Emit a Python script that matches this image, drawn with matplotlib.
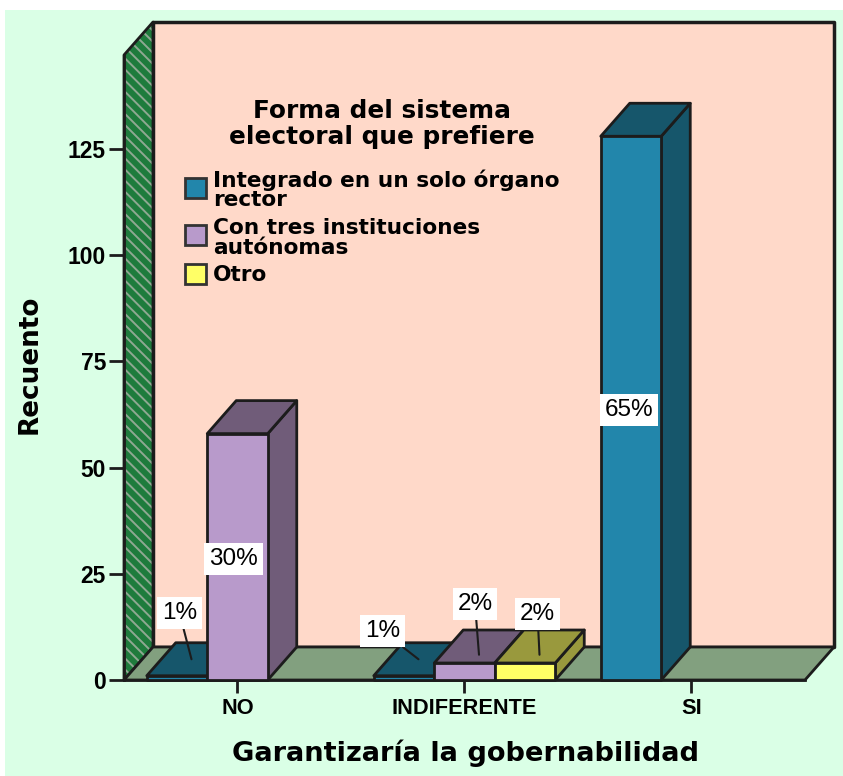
import matplotlib
matplotlib.use("Agg")
import matplotlib.pyplot as plt
from matplotlib.patches import Polygon, Rectangle

categories = ["NO", "INDIFERENTE", "SI"]
series_names = ["Integrado en un solo órgano\nrector", "Con tres instituciones\nautónomas", "Otro"]
integrado = [1, 1, 128]
con_tres = [58, 4, 0]
otro = [0, 4, 0]
integrado_pct = ["1%", "1%", "65%"]
con_tres_pct = ["30%", "2%", ""]
otro_pct = ["", "2%", ""]
yticks = [0, 25, 50, 75, 100, 125]

front_colors = ["#2286AB", "#B89ACB", "#FFFF66"]
dark_colors = ["#16566B", "#705C79", "#99993D"]

W, H = 843, 776
plt.rcParams["hatch.linewidth"] = 1.4
fig = plt.figure(figsize=(W / 100, H / 100), dpi=100, facecolor="white")
fig.patches.append(Rectangle((5 / W, 0), 838 / W, 766 / H, transform=fig.transFigure,
                             facecolor="#DAFFE6", edgecolor="none", zorder=-5))

ax = fig.add_axes([124 / W, 1 - 680 / H, 681 / W, 625 / H])
ax.patch.set_alpha(0)
ax.set_xlim(-0.5, 2.5)
ax.set_ylim(0, 625 / 4.248)

# depth of the fake 3d box, in data units
dx = 29 / 227
dy = 33 / 4.248
ymax = ax.get_ylim()[1]
bar_w = 60.5 / 227


def poly(points, color, z, lw=2.0, **kw):
    ax.add_patch(Polygon(points, closed=True, facecolor=color, edgecolor="#1c1c1c", linewidth=lw,
                         joinstyle="round", clip_on=False, zorder=z, **kw))


# back wall, left wall, floor
poly([(-0.5 + dx, dy), (2.5 + dx, dy), (2.5 + dx, ymax + dy), (-0.5 + dx, ymax + dy)], "#FFD9C9", 1, lw=2.5)
ax.add_patch(Polygon([(-0.5, 0), (-0.5 + dx, dy), (-0.5 + dx, ymax + dy), (-0.5, ymax)], closed=True,
                     facecolor="#1E7B3C", edgecolor="#8FA892", hatch="\\\\\\", linewidth=0,
                     clip_on=False, zorder=2))
poly([(-0.5, 0), (-0.5 + dx, dy), (-0.5 + dx, ymax + dy), (-0.5, ymax)], "none", 3)
poly([(-0.5, 0), (-0.5 + dx, dy), (2.5 + dx, dy), (2.5, 0)], "#82A07F", 3)


def bar3d(x, h, k, z):
    x0, x1 = x - bar_w / 2, x + bar_w / 2
    poly([(x1, 0), (x1 + dx, dy), (x1 + dx, h + dy), (x1, h)], dark_colors[k], z)
    poly([(x0, h), (x1, h), (x1 + dx, h + dy), (x0 + dx, h + dy)], dark_colors[k], z)
    poly([(x0, 0), (x1, 0), (x1, h), (x0, h)], front_colors[k], z + 0.1)


series = [integrado, con_tres, otro]
# SI only has the first slot filled, the cluster stays centred on the tick
for i in range(len(categories)):
    for k, vals in enumerate(series):
        if vals[i] > 0:
            bar3d(i + (k - 1) * bar_w, vals[i], k, 5 + i + k * 0.2)

label_font = dict(family="Liberation Sans", fontsize=17.5, color="black", ha="center", va="center", zorder=20,
                  bbox=dict(facecolor="white", edgecolor="none", pad=3.5))
# offsets in pixels for the labels of the short bars
short_offsets = {(0, 0): (-12, 46), (1, 0): (-36, 28), (1, 1): (-4, 51), (1, 2): (-2, 41)}
pcts = [integrado_pct, con_tres_pct, otro_pct]
for i in range(len(categories)):
    for k, vals in enumerate(series):
        if not pcts[k][i]:
            continue
        x = i + (k - 1) * bar_w
        if vals[i] > 20:
            ax.annotate(pcts[k][i], (x, vals[i] / 2), (-4 if k else -2, -2), textcoords="offset pixels",
                        annotation_clip=False, **label_font)
        else:
            off = short_offsets[(i, k)]
            tip = (x + dx / 2, vals[i] + dy * 0.25 if k else vals[i] + dy / 2)
            ax.annotate(pcts[k][i], tip, off, textcoords="offset pixels", annotation_clip=False,
                        arrowprops=dict(arrowstyle="-", color="#1c1c1c", lw=1.5, shrinkA=0, shrinkB=0),
                        **label_font)

for s in ["top", "right"]:
    ax.spines[s].set_visible(False)
for s in ["left", "bottom"]:
    ax.spines[s].set_linewidth(2)
    ax.spines[s].set_color("#1c1c1c")
    ax.spines[s].set_zorder(4)

ax.set_xticks(range(len(categories)), categories)
ax.set_yticks(yticks)
ax.tick_params(axis="x", length=9, width=2, color="#1c1c1c", pad=4)
ax.tick_params(axis="y", length=11, width=2, color="#1c1c1c", pad=2)
for t in ax.get_xticklabels():
    t.set(family="Liberation Sans", fontweight="bold", fontsize=15.7)
for t in ax.get_yticklabels():
    t.set(family="Liberation Sans", fontweight="bold", fontsize=16.5)

fig.text(465 / W, 1 - 753 / H, "Garantizaría la gobernabilidad", family="DejaVu Sans", fontweight="bold",
         fontsize=19.6, ha="center", va="center")
fig.text(30 / W, 1 - 364 / H, "Recuento", family="DejaVu Sans", fontweight="bold", fontsize=18.9,
         rotation=90, ha="center", va="center")

# legend, placed by hand like the original
fig.text(382 / W, 1 - 124 / H, "Forma del sistema\nelectoral que prefiere", family="DejaVu Sans",
         fontweight="bold", fontsize=17.8, ha="center", va="center", linespacing=1.15, zorder=30)
legend_y = [188, 235, 274]
text_y = [190, 238, 275]
for k, name in enumerate(series_names):
    fig.patches.append(Rectangle((185 / W, 1 - (legend_y[k] + 10) / H), 21 / W, 20 / H, transform=fig.transFigure,
                                 facecolor=front_colors[k], edgecolor="#333333", linewidth=2, zorder=30))
    fig.text(213 / W, 1 - text_y[k] / H, name, family="DejaVu Sans", fontweight="bold", fontsize=15.6,
             ha="left", va="center", linespacing=0.95, zorder=30)

fig.savefig("out.png", dpi=100)
